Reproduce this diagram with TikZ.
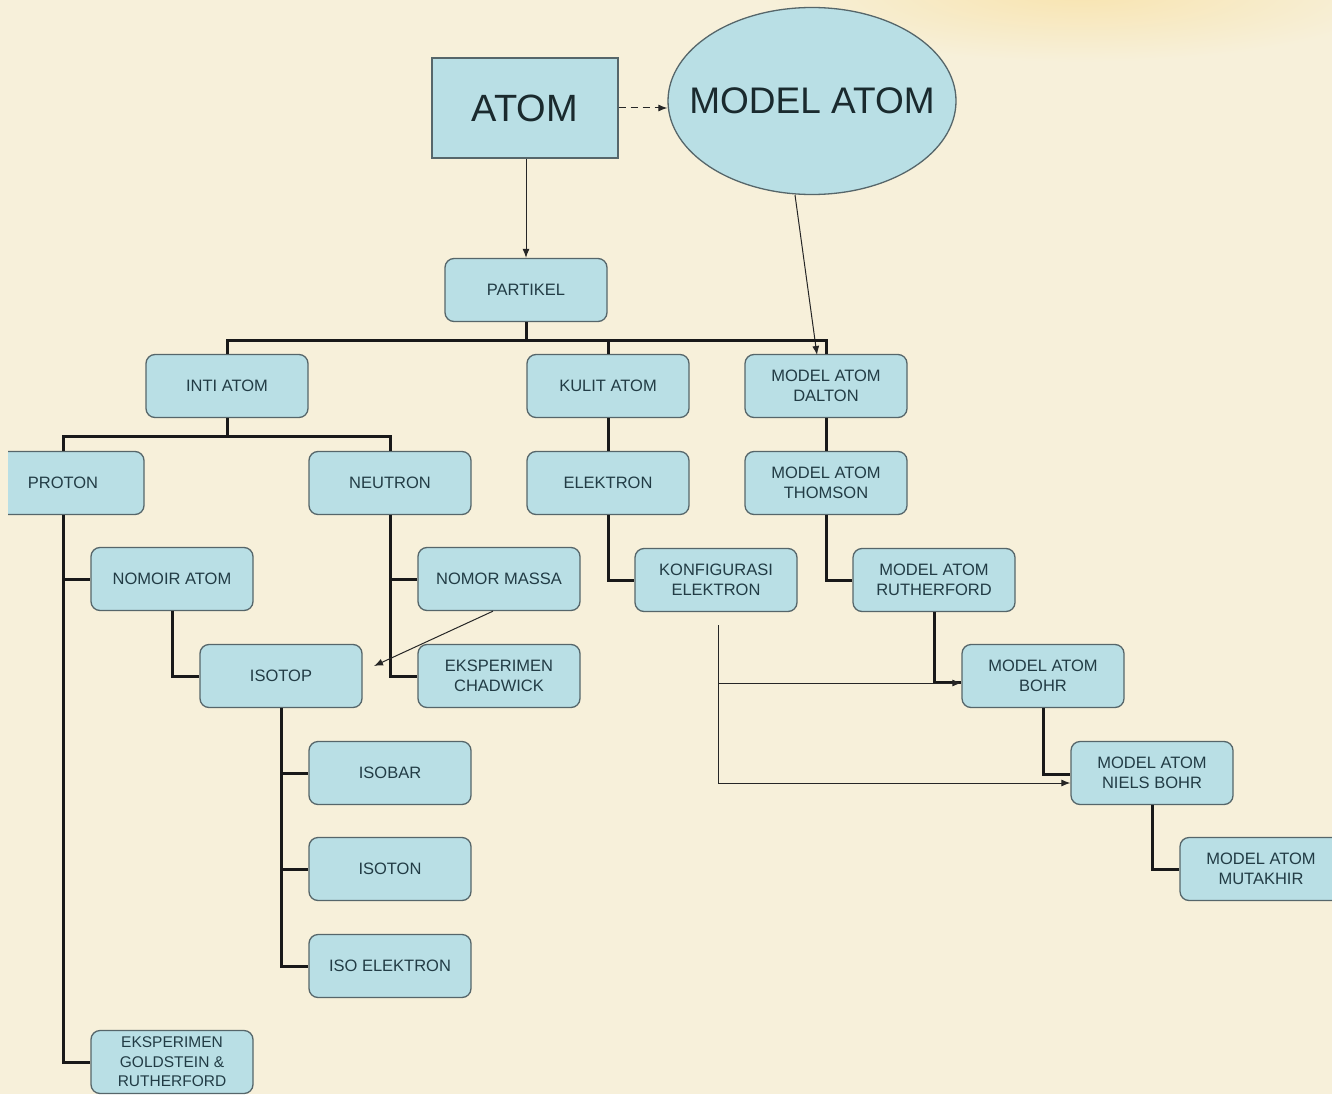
\documentclass[tikz,border=0pt]{standalone}
\usepackage{fontspec}
\setmainfont{Liberation Sans}
\usetikzlibrary{shapes.geometric,arrows.meta,calc}
\definecolor{bg}{HTML}{F7F0DA}
\definecolor{glow}{HTML}{F8E4B0}
\definecolor{boxfill}{HTML}{B9DFE5}
\definecolor{boxline}{HTML}{56666A}
\definecolor{txt}{HTML}{223C45}
\definecolor{bigtxt}{HTML}{1A2A2E}
\newcommand{\lab}{\fontsize{16.5}{20}\selectfont}
\begin{document}
\begin{tikzpicture}[x=1pt,y=-1pt,
  bx/.style={draw=boxline, fill=boxfill, rounded corners=9pt, minimum width=162pt,
    minimum height=63pt, align=center, font=\lab, text=txt, line width=1.3pt, inner sep=2pt},
  conn/.style={line width=3pt, draw=black!90},
  thinarr/.style={line width=1pt, draw=black!85, -{Latex[length=9pt,width=7pt]}},
  thinline/.style={line width=1pt, draw=black!85}]
\useasboundingbox (0,0) rectangle (1332,1094);
\fill[bg] (0,0) rectangle (1332,1094);
\begin{scope}
\clip (0,0) rectangle (1332,1094);
\shade[inner color=glow, outer color=bg] (1080,-8) ellipse [x radius=320pt, y radius=70pt];
\end{scope}

% top nodes
\node[draw=boxline, fill=boxfill, line width=1.3pt, minimum width=186pt, minimum height=100pt,
  font=\fontsize{38}{40}\selectfont, text=bigtxt] (atom) at (525,108) {ATOM};
\node[ellipse, draw=boxline, fill=boxfill, line width=1.3pt, minimum width=288pt, minimum height=187pt,
  font=\fontsize{37}{40}\selectfont, text=bigtxt, inner sep=0pt] (matom) at (812,101) {\makebox[0pt]{MODEL ATOM}};

\node[bx] (partikel) at (526,290) {PARTIKEL};
\node[bx] (inti) at (227,386) {INTI ATOM};
\node[bx] (kulit) at (608,386) {KULIT ATOM};
\node[bx] (dalton) at (826,386) {MODEL ATOM\\DALTON};
\begin{scope}
\clip (8,0) rectangle (1332,1094);
\node[bx] (proton) at (63,483) {PROTON};
\end{scope}
\node[bx] (neutron) at (390,483) {NEUTRON};
\node[bx] (elektron) at (608,483) {ELEKTRON};
\node[bx] (thomson) at (826,483) {MODEL ATOM\\THOMSON};
\node[bx] (nomoir) at (172,579) {NOMOIR ATOM};
\node[bx] (massa) at (499,579) {NOMOR MASSA};
\node[bx] (konfig) at (716,580) {KONFIGURASI\\ELEKTRON};
\node[bx] (ruther) at (934,580) {MODEL ATOM\\RUTHERFORD};
\node[bx] (isotop) at (281,676) {ISOTOP};
\node[bx] (chadwick) at (499,676) {EKSPERIMEN\\CHADWICK};
\node[bx] (bohr) at (1043,676) {MODEL ATOM\\BOHR};
\node[bx] (isobar) at (390,773) {ISOBAR};
\node[bx] (niels) at (1152,773) {MODEL ATOM\\NIELS BOHR};
\node[bx] (isoton) at (390,869) {ISOTON};
\begin{scope}
\clip (0,0) rectangle (1332,1094);
\node[bx] (mutakhir) at (1261,869) {MODEL ATOM\\MUTAKHIR};
\end{scope}
\node[bx] (isoel) at (390,966) {ISO ELEKTRON};
\node[bx, inner ysep=0pt, font=\fontsize{15.5}{19.5}\selectfont] (gold) at (172,1062) {EKSPERIMEN\\GOLDSTEIN \&\\RUTHERFORD};

% top arrows
\draw[thinarr, dashed, dash pattern=on 7pt off 5pt] (atom.east) -- (atom.east -| matom.west);
\draw[thinarr] (atom.south -| partikel.north) -- (partikel.north);
\coordinate (mstart) at (795,195);
\coordinate (dtop) at (817,355);
\draw[thinarr] (mstart) -- (dtop);

% buses
\coordinate (bus1) at (526,340);
\draw[conn] (partikel.south) -- (bus1);
\draw[conn] (inti.north) -- (inti.north |- bus1) -- (dalton.north |- bus1) -- (dalton.north);
\draw[conn] (kulit.north) -- (kulit.north |- bus1);

\coordinate (bus2) at (227,436);
\draw[conn] (inti.south) -- (bus2);
\draw[conn] (proton.north) -- (proton.north |- bus2) -- (neutron.north |- bus2) -- (neutron.north);

% proton branch
\draw[conn] (proton.south) -- (proton.south |- gold.west) -- (gold.west);
\draw[conn] (proton.south |- nomoir.west) -- (nomoir.west);
\draw[conn] (nomoir.south) |- (isotop.west);

% neutron branch
\draw[conn] (neutron.south) -- (neutron.south |- chadwick.west) -- (chadwick.west);
\draw[conn] (neutron.south |- massa.west) -- (massa.west);
\coordinate (isoin) at (374,666);
\draw[thinarr] ($(massa.south)+(-6,0)$) -- (isoin);

% isotop branch
\draw[conn] (isotop.south) -- (isotop.south |- isoel.west) -- (isoel.west);
\draw[conn] (isotop.south |- isobar.west) -- (isobar.west);
\draw[conn] (isotop.south |- isoton.west) -- (isoton.west);

% kulit branch
\draw[conn] (kulit.south) -- (elektron.north);
\draw[conn] (elektron.south) |- (konfig.west);

% model atom chain
\draw[conn] (dalton.south) -- (thomson.north);
\draw[conn] (thomson.south) |- (ruther.west);
\draw[conn] (ruther.south) |- ($(bohr.west)+(0,6)$);
\draw[conn] (bohr.south) |- ($(niels.west)+(0,1)$);
\draw[conn] (niels.south) |- (mutakhir.west);

% konfigurasi thin links
\coordinate (kstart) at (718,625);
\draw[thinarr] (kstart) |- ($(bohr.west)+(0,7)$);
\draw[thinarr] (kstart) |- ($(niels.west)+(0,10)$);
\end{tikzpicture}
\end{document}
